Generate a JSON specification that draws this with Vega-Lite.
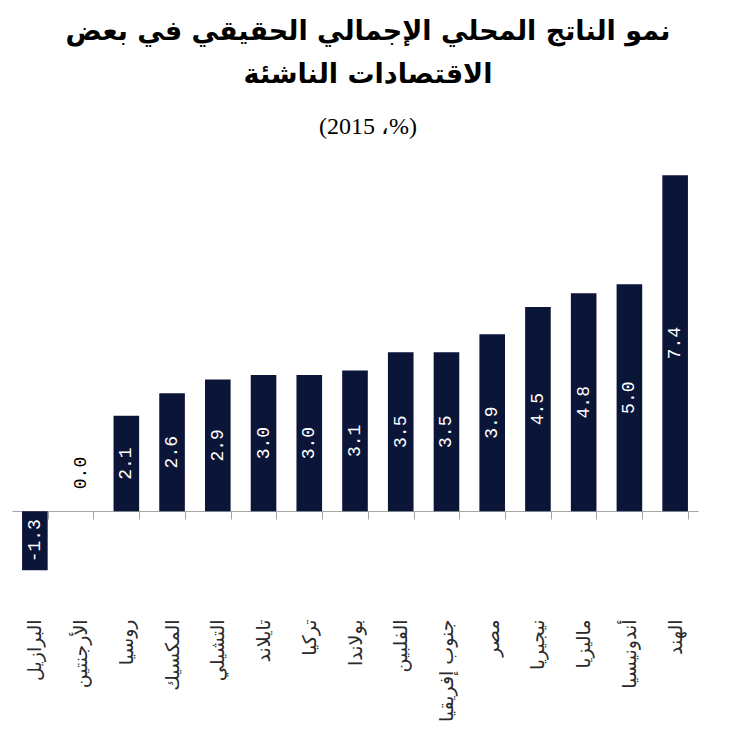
{
  "$schema": "https://vega.github.io/schema/vega-lite/v6.json",
  "autosize": {"type": "none"},
  "width": 686,
  "height": 454,
  "padding": {"left": 12, "top": 148, "right": 36, "bottom": 141},
  "background": "white",
  "config": {
    "view": {"stroke": null},
    "locale": {"number": {"decimal": ".", "thousands": ",", "grouping": [3], "currency": ["$", ""], "minus": "-"}}
  },
  "title": {
    "text": ["نمو الناتج المحلي الإجمالي الحقيقي في بعض", "الاقتصادات الناشئة"],
    "subtitle": "\u202D(2015 ،%)\u202C",
    "anchor": "middle",
    "dx": 13,
    "font": "DejaVu Sans",
    "fontSize": 27,
    "fontWeight": "bold",
    "lineHeight": 43,
    "color": "black",
    "subtitleFont": "Liberation Serif",
    "subtitleFontSize": 24,
    "subtitleColor": "black",
    "subtitlePadding": 26,
    "offset": 8
  },
  "data": {
    "values": [
      {"country": "البرازيل", "value": -1.3},
      {"country": "الأرجنتين", "value": 0.0},
      {"country": "روسيا", "value": 2.1},
      {"country": "المكسيك", "value": 2.6},
      {"country": "التشيلي", "value": 2.9},
      {"country": "تايلاند", "value": 3.0},
      {"country": "تركيا", "value": 3.0},
      {"country": "بولاندا", "value": 3.1},
      {"country": "الفلبين", "value": 3.5},
      {"country": "جنوب إفريقيا", "value": 3.5},
      {"country": "مصر", "value": 3.9},
      {"country": "نيجيريا", "value": 4.5},
      {"country": "ماليزيا", "value": 4.8},
      {"country": "أندونيسيا", "value": 5.0},
      {"country": "الهند", "value": 7.4}
    ]
  },
  "encoding": {
    "x": {
      "field": "country",
      "type": "nominal",
      "sort": null,
      "scale": {"paddingInner": 0.44, "paddingOuter": 0.22},
      "axis": {
        "title": null,
        "labelAngle": 270,
        "offset": -91,
        "tickBand": "extent",
        "tickSize": 8,
        "domainColor": "#a6a6a6",
        "tickColor": "#a6a6a6",
        "labelFont": "DejaVu Sans",
        "labelFontSize": 19,
        "labelColor": "#2a2a2a",
        "labelPadding": 100,
        "labelLimit": 0
      }
    }
  },
  "layer": [
    {
      "mark": {"type": "bar", "color": "#0b1538"},
      "encoding": {
        "y": {"field": "value", "type": "quantitative", "scale": {"domain": [-2, 8], "nice": false, "zero": false}, "axis": null}
      }
    },
    {
      "transform": [{"filter": "datum.value != 0"}],
      "mark": {"type": "text", "angle": 270, "color": "white", "font": "Liberation Mono", "fontSize": 18, "align": "center", "baseline": "middle"},
      "encoding": {
        "y": {"field": "value", "type": "quantitative", "scale": {"domain": [-4, 16], "nice": false, "zero": false}, "axis": null},
        "text": {"field": "value", "type": "quantitative", "format": ".1f"}
      }
    },
    {
      "transform": [{"filter": "datum.value == 0"}],
      "mark": {"type": "text", "angle": 270, "color": "black", "font": "Liberation Mono", "fontSize": 18, "align": "left", "baseline": "middle", "dx": 22},
      "encoding": {
        "y": {"field": "value", "type": "quantitative", "scale": {"domain": [-2, 8], "nice": false, "zero": false}, "axis": null},
        "text": {"field": "value", "type": "quantitative", "format": ".1f"}
      }
    }
  ],
  "resolve": {"scale": {"y": "independent"}}
}
